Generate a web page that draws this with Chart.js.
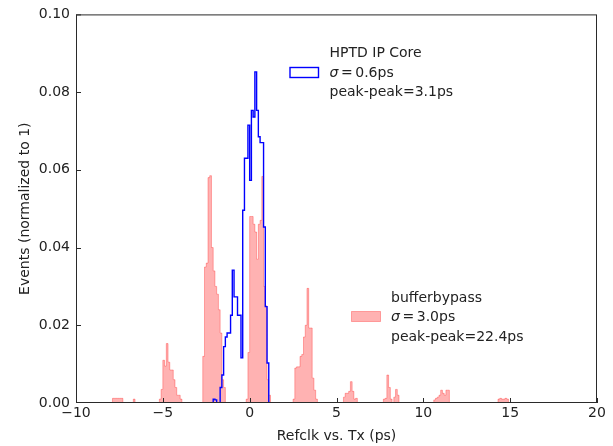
<!DOCTYPE html>
<html>
<head>
<meta charset="utf-8">
<script src="https://cdn.jsdelivr.net/npm/chart.js@4.4.0/dist/chart.umd.min.js"></script>
<style>
  html, body { margin: 0; padding: 0; background: #fff; }
  #wrap { width: 613px; height: 446px; }
</style>
</head>
<body>
<div id="wrap"><canvas id="histChart" width="613" height="446"></canvas></div>
<script>
// histogram binning (ps)
const BIN_LOW = -10;
const BIN_HIGH = 20;
const BIN_WIDTH = 0.1;

const xTicks = [-10, -5, 0, 5, 10, 15, 20];
const yTicks = [0, 0.02, 0.04, 0.06, 0.08, 0.10];

// HPTD IP Core: one value per bin, first bin starts at hptdStart
const hptdStart = -2.2;
const hptdCounts = [
    0, 0.001, 0.0008, 0, 0, 0.004, 0.0072, 0.0145, 0.017, 0.018,
    0.018, 0.0226, 0.0342, 0.0273, 0.0273, 0.0226, 0.0226, 0.0116, 0.0496, 0.063,
    0.063, 0.0715, 0.0573, 0.0753, 0.0736, 0.0852, 0.0753, 0.0685, 0.067, 0.067,
    0.0453, 0.0248, 0.0103, 0
];

// bufferbypass: groups of non-empty bins as [first bin edge, values]
const bypassNear8Neg = [-7.9, [0.0012, 0.0012, 0.0012, 0.0012, 0.0012, 0.0012]];
const bypassNear7Neg = [-6.7, [0.001]];
const bypassNear5Neg = [-5.2, [0.001, 0.0035, 0.011, 0.0095, 0.0153, 0.0105, 0.0085, 0.0085, 0.006, 0.004, 0.002, 0.002, 0.001]];
const bypassNear2Neg = [-2.7, [0.012, 0.035, 0.036, 0.058, 0.0585, 0.040, 0.034, 0.030, 0.028, 0.024, 0.018, 0.006, 0.004]];
const bypassNear0 = [-0.2, [0.001, 0.013, 0.048, 0.048, 0.046, 0.044, 0.037, 0.046, 0.047, 0.0583, 0.030, 0.025, 0.006, 0.002]];
const bypassNear3 = [2.5, [0.001, 0.009, 0.0093, 0.0093, 0.012, 0.0125, 0.017, 0.020, 0.0295, 0.0193, 0.0193, 0.0064, 0.0033, 0.001]];
const bypassNear6 = [5.4, [0.0015, 0.0025, 0.0025, 0.003, 0.0055, 0.003, 0.001, 0.0012]];
const bypassNear8 = [7.7, [0.001, 0.0012, 0.0072, 0.004, 0.001, 0, 0.0015, 0.0035, 0.002]];
const bypassNear11 = [10.6, [0.0008, 0.0012, 0.0015, 0.002, 0.0033, 0.0025, 0.002, 0.0033, 0.0033]];
const bypassNear14 = [14.3, [0.001, 0.0012, 0.001, 0.001, 0.0012, 0.001]];

const TEXT_COLOR = '#222';
const FONT_FAMILY = '"DejaVu Sans", "Liberation Sans", sans-serif';

const nBins = Math.round((BIN_HIGH - BIN_LOW) / BIN_WIDTH);

function fillBins(groups) {
    const h = new Array(nBins).fill(0);
    groups.forEach(([start, vals]) => {
        const first = Math.round((start - BIN_LOW) / BIN_WIDTH);
        vals.forEach((v, k) => { h[first + k] = v; });
    });
    return h;
}

// step points: each bin is a horizontal run from its left edge
function toPoints(h) {
    const pts = h.map((v, i) => ({ x: Math.round((BIN_LOW + i * BIN_WIDTH) * 10) / 10, y: v }));
    pts.push({ x: BIN_HIGH, y: 0 });
    return pts;
}

const hptdBins = fillBins([[hptdStart, hptdCounts]]);
const bypassBins = fillBins([
    bypassNear8Neg, bypassNear7Neg, bypassNear5Neg, bypassNear2Neg, bypassNear0,
    bypassNear3, bypassNear6, bypassNear8, bypassNear11, bypassNear14
]);

// "σ = value" with an oblique sigma, spaced like mathtext
function drawSigmaLine(ctx, x, y, value) {
    ctx.font = 'italic 14px ' + FONT_FAMILY;
    ctx.fillText('σ', x, y);
    ctx.font = '14px ' + FONT_FAMILY;
    const eqX = x + 11.5;
    ctx.fillText('=', eqX, y);
    ctx.fillText(value, eqX + ctx.measureText('=').width + 2.5, y);
}

const framePlugin = {
    id: 'frame',
    afterDatasetsDraw(chart) {
        const { ctx, chartArea: a, scales } = chart;
        ctx.save();
        ctx.strokeStyle = '#2a2a2a';
        ctx.lineWidth = 1;
        ctx.beginPath();
        // inward ticks
        xTicks.forEach(v => {
            const px = Math.round(scales.x.getPixelForValue(v)) + 0.5;
            ctx.moveTo(px, a.bottom);
            ctx.lineTo(px, a.bottom - 5);
        });
        yTicks.forEach(v => {
            let py = Math.round(scales.y.getPixelForValue(v)) + 0.5;
            py = Math.min(Math.max(py, a.top + 0.5), a.bottom - 0.5);
            ctx.moveTo(a.left, py);
            ctx.lineTo(a.left + 5, py);
        });
        ctx.stroke();
        ctx.strokeRect(a.left + 0.5, a.top + 0.5, a.right - a.left - 1, a.bottom - a.top - 1);
        ctx.restore();
    },
    afterDraw(chart) {
        const { ctx, chartArea: a } = chart;
        ctx.save();
        ctx.fillStyle = TEXT_COLOR;
        ctx.font = '14px ' + FONT_FAMILY;
        ctx.textBaseline = 'middle';
        ctx.textAlign = 'center';
        ctx.fillText('Refclk vs. Tx (ps)', (a.left + a.right) / 2, 436);
        ctx.save();
        ctx.translate(25, (a.top + a.bottom) / 2);
        ctx.rotate(-Math.PI / 2);
        ctx.fillText('Events (normalized to 1)', 0, 0);
        ctx.restore();

        // legend entries
        ctx.textAlign = 'left';
        ctx.textBaseline = 'alphabetic';

        ctx.strokeStyle = '#0000ff';
        ctx.lineWidth = 1.4;
        ctx.strokeRect(290, 67.5, 28.5, 10);
        ctx.fillStyle = TEXT_COLOR;
        ctx.fillText('HPTD IP Core', 329.5, 57);
        drawSigmaLine(ctx, 329.5, 76.5, '0.6ps');
        ctx.fillText('peak-peak=3.1ps', 329.5, 96);

        ctx.fillStyle = 'rgba(255,0,0,0.3)';
        ctx.fillRect(351.5, 311.5, 29, 10);
        ctx.strokeStyle = 'rgba(255,0,0,0.3)';
        ctx.lineWidth = 1;
        ctx.strokeRect(351.5, 311.5, 29, 10);
        ctx.fillStyle = TEXT_COLOR;
        ctx.fillText('bufferbypass', 391, 301.5);
        drawSigmaLine(ctx, 391, 321, '3.0ps');
        ctx.fillText('peak-peak=22.4ps', 391, 340.5);
        ctx.restore();
    }
};

new Chart(document.getElementById('histChart'), {
    type: 'line',
    data: {
        datasets: [
            {
                label: 'HPTD IP Core',
                data: toPoints(hptdBins),
                stepped: 'before',
                borderColor: '#0000ff',
                borderWidth: 1.4,
                fill: false,
                pointRadius: 0,
                order: 0
            },
            {
                label: 'bufferbypass',
                data: toPoints(bypassBins),
                stepped: 'before',
                borderColor: 'rgba(255,0,0,0.3)',
                backgroundColor: 'rgba(255,0,0,0.3)',
                borderWidth: 1,
                fill: 'origin',
                pointRadius: 0,
                order: 1
            }
        ]
    },
    options: {
        responsive: false,
        animation: false,
        devicePixelRatio: 1,
        layout: { padding: { top: 14, right: 16, left: 0, bottom: 0 } },
        plugins: { legend: { display: false }, tooltip: { enabled: false } },
        scales: {
            x: {
                type: 'linear',
                min: BIN_LOW,
                max: BIN_HIGH,
                afterBuildTicks: s => { s.ticks = xTicks.map(v => ({ value: v })); },
                grid: { display: false, drawTicks: false },
                border: { display: false },
                ticks: {
                    padding: 2,
                    color: TEXT_COLOR,
                    font: { family: FONT_FAMILY, size: 14 },
                    maxRotation: 0,
                    autoSkip: false,
                    callback: v => v < 0 ? '\u2212' + Math.abs(v) : String(v)
                },
                afterFit: s => { s.height = 43; }
            },
            y: {
                type: 'linear',
                min: 0,
                max: 0.1,
                afterBuildTicks: s => { s.ticks = yTicks.map(v => ({ value: v })); },
                grid: { display: false, drawTicks: false },
                border: { display: false },
                ticks: {
                    padding: 6,
                    color: TEXT_COLOR,
                    font: { family: FONT_FAMILY, size: 14 },
                    callback: v => v.toFixed(2)
                },
                afterFit: s => { s.width = 76; }
            }
        }
    },
    plugins: [framePlugin]
});
</script>
</body>
</html>
